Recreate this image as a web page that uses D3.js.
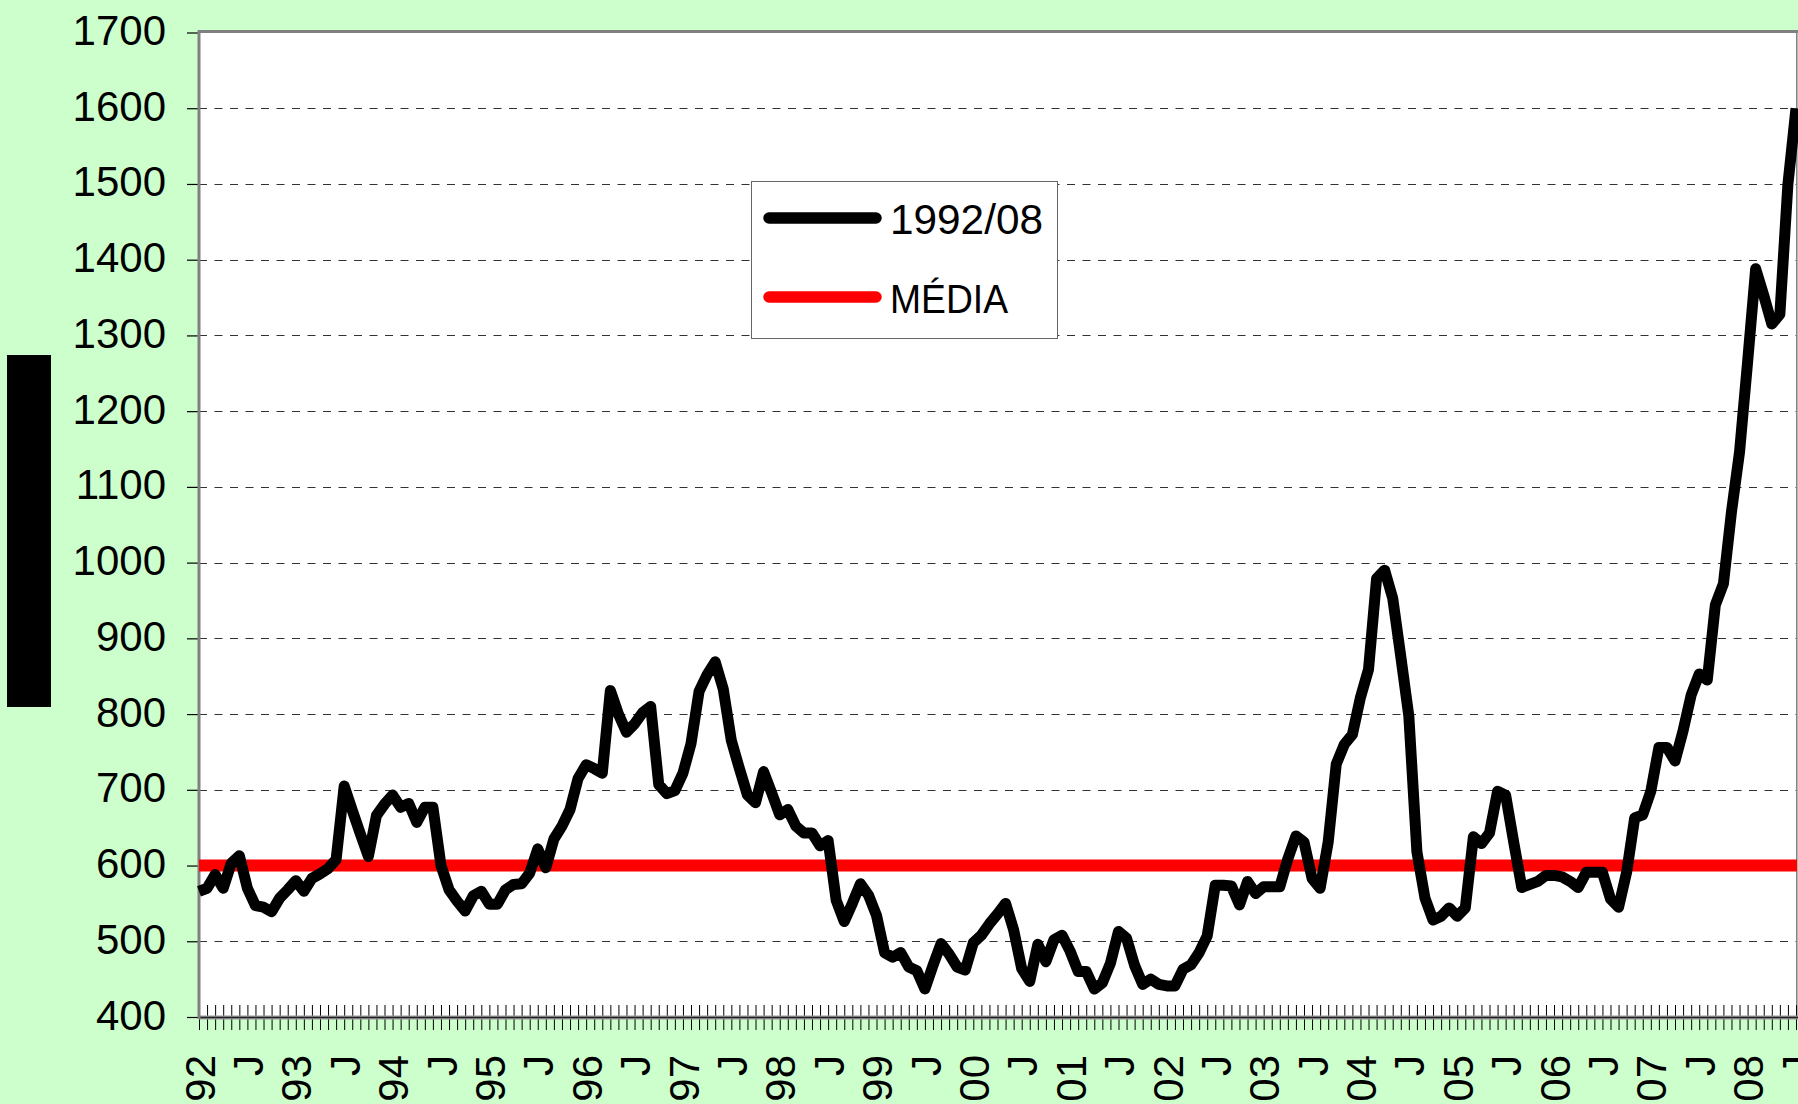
<!DOCTYPE html>
<html>
<head>
<meta charset="utf-8">
<script src="https://cdn.jsdelivr.net/npm/d3@7"></script>
<style>
  html, body { margin: 0; padding: 0; background: #CCFFCC; }
  svg { display: block; }
  text { font-family: "Liberation Sans", Arial, sans-serif; }
</style>
</head>
<body>
<svg id="chart" width="1798" height="1104"></svg>
<script>
// ---- data (monthly, Jan 1992 .. Jul 2008) ----
const yearLabels = ["92","93","94","95","96","97","98","99","00","01","02","03","04","05","06","07","08"];
const seriesName = "1992/08";
const meanName = "MÉDIA";
const meanValue = 600;
const yTickValues = [400,500,600,700,800,900,1000,1100,1200,1300,1400,1500,1600,1700];

const values1992 = [566,570,588,570,603,613,570,547,545,539,557,568];
const values1993 = [580,566,583,589,596,608,705,673,642,612,666,681];
const values1994 = [693,677,682,657,677,677,600,568,553,540,560,566];
const values1995 = [549,549,568,575,576,590,622,597,635,652,674,715];
const values1996 = [733,728,722,831,800,776,787,802,810,707,695,699];
const values1997 = [722,761,830,852,869,833,765,728,693,683,724,696];
const values1998 = [667,674,652,643,643,626,633,554,526,550,576,561];
const values1999 = [534,485,479,485,466,461,437,468,497,483,466,462];
const values2000 = [498,508,523,536,550,515,464,447,496,473,502,508];
const values2001 = [487,460,460,437,445,471,513,504,468,443,450,443];
const values2002 = [441,441,463,469,485,507,574,574,573,548,579,563];
const values2003 = [572,572,572,609,639,631,583,570,631,734,760,773];
const values2004 = [822,859,979,990,953,876,797,618,557,528,533,544];
const values2005 = [533,544,638,629,643,698,693,631,571,575,579,587];
const values2006 = [587,585,579,571,591,591,591,556,545,591,663,667];
const values2007 = [698,756,756,738,778,825,853,845,944,972,1067,1146];
const values2008 = [1265,1388,1353,1315,1328,1500,1600];

const values = [].concat(values1992, values1993, values1994, values1995, values1996,
  values1997, values1998, values1999, values2000, values2001, values2002, values2003,
  values2004, values2005, values2006, values2007, values2008);

// category labels: year at January, "J" at July, blank otherwise
const categories = values.map((v, i) => {
  const m = i % 12;
  if (m === 0) return yearLabels[Math.floor(i / 12)];
  if (m === 6) return "J";
  return "";
});

// ---- layout ----
const svg = d3.select("#chart");
const plot = { left: 199, right: 1796, top: 32.5, bottom: 1017 };

const x = d3.scaleLinear().domain([0, values.length - 1]).range([plot.left, plot.right]);
const y = d3.scaleLinear().domain([400, 1700]).range([plot.bottom, plot.top]);

// background
svg.append("rect").attr("x", 0).attr("y", 0).attr("width", 1798).attr("height", 1104).attr("fill", "#CCFFCC");

// black block on the left
svg.append("rect").attr("x", 7).attr("y", 355).attr("width", 44).attr("height", 352).attr("fill", "#000");

// plot area
svg.append("rect")
  .attr("x", plot.left).attr("y", plot.top)
  .attr("width", 1797.5 - plot.left).attr("height", plot.bottom - plot.top)
  .attr("fill", "#fff");

// gridlines
svg.append("g").selectAll("line")
  .data(yTickValues.filter(v => v > 400 && v < 1700))
  .join("line")
  .attr("x1", plot.left).attr("x2", 1797)
  .attr("y1", d => Math.round(y(d)) + 0.5).attr("y2", d => Math.round(y(d)) + 0.5)
  .attr("stroke", "#333").attr("stroke-width", 1)
  .attr("stroke-dasharray", "8,7.5");

// plot borders (top, right)
svg.append("line").attr("x1", plot.left).attr("x2", 1798).attr("y1", 31.5).attr("y2", 31.5)
  .attr("stroke", "#808080").attr("stroke-width", 3);
svg.append("line").attr("x1", 1796.8).attr("x2", 1796.8).attr("y1", 31).attr("y2", plot.bottom)
  .attr("stroke", "#808080").attr("stroke-width", 1.5);

// x axis (monthly ticks)
const xAxis = d3.axisBottom(x)
  .tickValues(d3.range(values.length))
  .tickSize(13)
  .tickFormat(i => categories[i]);
const gx = svg.append("g").attr("transform", `translate(0,${plot.bottom})`).call(xAxis);
gx.select(".domain").remove();
gx.selectAll(".tick line").attr("y1", -12).attr("y2", 13).attr("stroke", "#000").attr("stroke-width", 1);
gx.selectAll(".tick text")
  .attr("transform", "rotate(-90)")
  .attr("x", 0).attr("y", 0)
  .attr("dx", -38).attr("dy", "0.36em")
  .attr("text-anchor", "end")
  .attr("font-size", 42)
  .attr("fill", "#000");
svg.append("line").attr("x1", plot.left).attr("x2", 1798).attr("y1", plot.bottom + 0.5).attr("y2", plot.bottom + 0.5)
  .attr("stroke", "#9a9a9a").attr("stroke-width", 4);
svg.append("line").attr("x1", plot.left).attr("x2", 1798).attr("y1", plot.bottom + 0.5).attr("y2", plot.bottom + 0.5)
  .attr("stroke", "#222").attr("stroke-width", 1.5);

// y axis
const yAxis = d3.axisLeft(y).tickValues(yTickValues).tickSize(12).tickPadding(21).tickFormat(d3.format("d"));
const gy = svg.append("g").attr("transform", `translate(${plot.left},0)`).call(yAxis);
gy.select(".domain").remove();
gy.selectAll(".tick line").attr("stroke", "#000").attr("stroke-width", 1.2);
gy.selectAll(".tick text").attr("font-size", 42).attr("fill", "#000").attr("dy", 12);
svg.append("line").attr("x1", plot.left).attr("x2", plot.left).attr("y1", 30).attr("y2", plot.bottom + 2)
  .attr("stroke", "#808080").attr("stroke-width", 3);

// mean line
svg.append("line")
  .attr("x1", x(0)).attr("x2", 1797)
  .attr("y1", y(meanValue)).attr("y2", y(meanValue))
  .attr("stroke", "#FF0000").attr("stroke-width", 12);

// series line
const line = d3.line().x((d, i) => x(i)).y(d => y(d));
svg.append("path")
  .datum(values)
  .attr("d", line)
  .attr("fill", "none")
  .attr("stroke", "#000")
  .attr("stroke-width", 11)
  .attr("stroke-linejoin", "round");

// legend
const lg = svg.append("g");
lg.append("rect").attr("x", 751.5).attr("y", 181.5).attr("width", 306).attr("height", 157)
  .attr("fill", "#fff").attr("stroke", "#666").attr("stroke-width", 1);
lg.append("line").attr("x1", 769).attr("x2", 876).attr("y1", 218).attr("y2", 218)
  .attr("stroke", "#000").attr("stroke-width", 11.5).attr("stroke-linecap", "round");
lg.append("text").attr("x", 890).attr("y", 234).attr("font-size", 42).attr("fill", "#000")
  .attr("textLength", 153).attr("lengthAdjust", "spacingAndGlyphs").text(seriesName);
lg.append("line").attr("x1", 769).attr("x2", 876).attr("y1", 297).attr("y2", 297)
  .attr("stroke", "#FF0000").attr("stroke-width", 11.5).attr("stroke-linecap", "round");
lg.append("text").attr("x", 890).attr("y", 313).attr("font-size", 40).attr("fill", "#000")
  .attr("textLength", 118).attr("lengthAdjust", "spacingAndGlyphs").text(meanName);
</script>
</body>
</html>
